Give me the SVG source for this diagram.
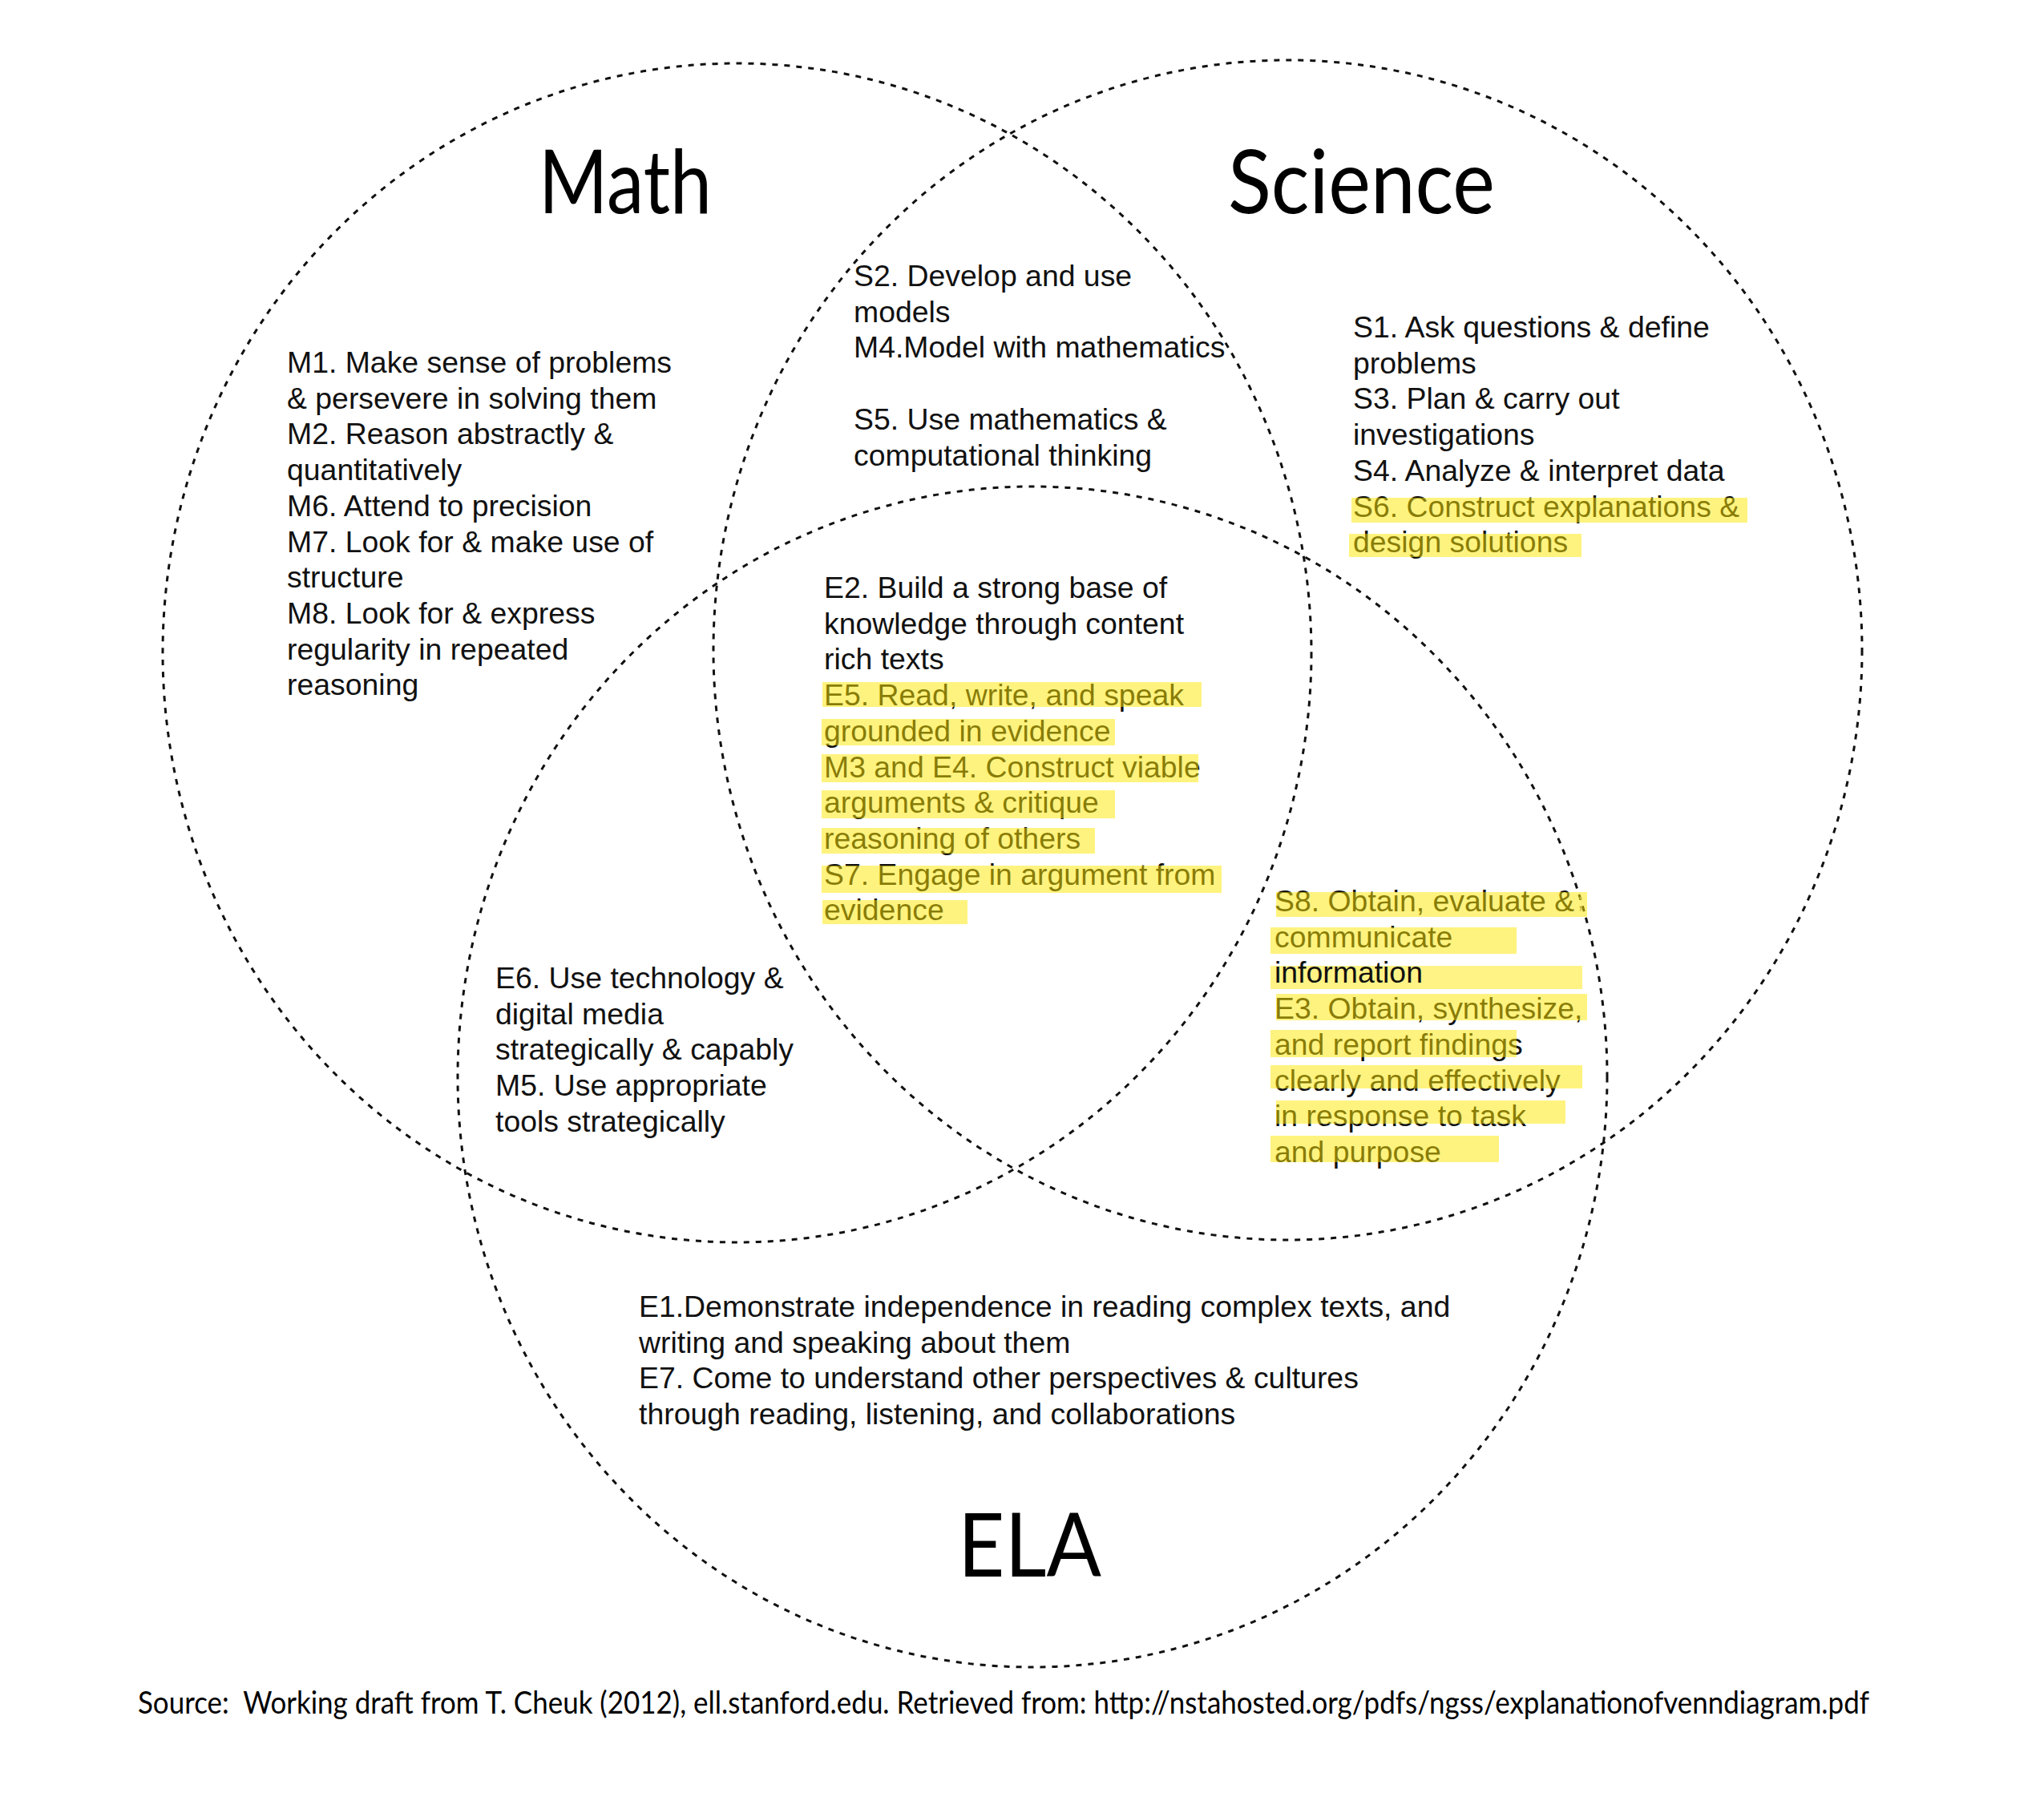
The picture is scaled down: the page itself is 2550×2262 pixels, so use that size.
<svg xmlns="http://www.w3.org/2000/svg" width="2550" height="2262" viewBox="0 0 2550 2262">
<style>
.c{fill:none;stroke:#111;stroke-width:3;stroke-dasharray:7 8}
.t{font-family:"Liberation Sans",Arial,sans-serif;font-size:37.4px;fill:#111}
.h{fill:#FFE800;fill-opacity:0.5}
.hb{fill:#FFF385}
.ti{font-family:Lato,"Open Sans",sans-serif;font-size:110px;fill:#000}
.src{font-family:Lato,"Open Sans",sans-serif;font-size:38px;fill:#000}
</style>
<rect width="2550" height="2262" fill="#fff"/>
<g id="circles">
<ellipse id="math-circle" class="c" cx="919.5" cy="814.5" rx="716.5" ry="735.5"/>
<ellipse id="science-circle" class="c" cx="1606.5" cy="811" rx="716.5" ry="736"/>
<ellipse id="ela-circle" class="c" cx="1288" cy="1343.5" rx="717" ry="736.5"/>
</g>
<g id="connectors"></g>
<g id="title-math"><text class="ti" x="672" y="266" textLength="216" lengthAdjust="spacingAndGlyphs">Math</text></g>
<g id="title-science"><text class="ti" x="1532" y="266" textLength="333" lengthAdjust="spacingAndGlyphs">Science</text></g>
<g id="title-ela"><text class="ti" x="1195" y="1967" textLength="179" lengthAdjust="spacingAndGlyphs">ELA</text></g>
<g id="math-only">
<text class="t" x="358" y="465">M1. Make sense of problems</text>
<text class="t" x="358" y="509.7">&amp; persevere in solving them</text>
<text class="t" x="358" y="554.4">M2. Reason abstractly &amp;</text>
<text class="t" x="358" y="599.1">quantitatively</text>
<text class="t" x="358" y="643.8">M6. Attend to precision</text>
<text class="t" x="358" y="688.5">M7. Look for &amp; make use of</text>
<text class="t" x="358" y="733.2">structure</text>
<text class="t" x="358" y="777.9">M8. Look for &amp; express</text>
<text class="t" x="358" y="822.6">regularity in repeated</text>
<text class="t" x="358" y="867.3">reasoning</text>
</g>
<g id="math-science">
<text class="t" x="1065" y="357">S2. Develop and use</text>
<text class="t" x="1065" y="401.7">models</text>
<text class="t" x="1065" y="446.4">M4.Model with mathematics</text>
<text class="t" x="1065" y="535.8">S5. Use mathematics &amp;</text>
<text class="t" x="1065" y="580.5">computational thinking</text>
</g>
<g id="science-only">
<text class="t" x="1688" y="421">S1. Ask questions &amp; define</text>
<text class="t" x="1688" y="465.7">problems</text>
<text class="t" x="1688" y="510.4">S3. Plan &amp; carry out</text>
<text class="t" x="1688" y="555.1">investigations</text>
<text class="t" x="1688" y="599.8">S4. Analyze &amp; interpret data</text>
<text class="t" x="1688" y="644.5">S6. Construct explanations &amp;</text>
<text class="t" x="1688" y="689.2">design solutions</text>
<rect class="h" x="1686" y="621" width="494" height="31"/>
<rect class="h" x="1683" y="666" width="290" height="29"/>
</g>
<g id="all-three">
<text class="t" x="1028" y="746">E2. Build a strong base of</text>
<text class="t" x="1028" y="790.7">knowledge through content</text>
<text class="t" x="1028" y="835.4">rich texts</text>
<text class="t" x="1028" y="880.1">E5. Read, write, and speak</text>
<text class="t" x="1028" y="924.8">grounded in evidence</text>
<text class="t" x="1028" y="969.5">M3 and E4. Construct viable</text>
<text class="t" x="1028" y="1014.2">arguments &amp; critique</text>
<text class="t" x="1028" y="1058.9">reasoning of others</text>
<text class="t" x="1028" y="1103.6">S7. Engage in argument from</text>
<text class="t" x="1028" y="1148.3">evidence</text>
<rect class="h" x="1026" y="851" width="473" height="31"/>
<rect class="h" x="1025" y="897" width="366" height="33"/>
<rect class="h" x="1025" y="941" width="470" height="35"/>
<rect class="h" x="1025" y="986" width="366" height="35"/>
<rect class="h" x="1025" y="1033" width="341" height="32"/>
<rect class="h" x="1025" y="1080" width="499" height="34"/>
<rect class="h" x="1026" y="1123" width="181" height="30"/>
</g>
<g id="science-ela">
<rect class="hb" x="1585" y="1205" width="389" height="29"/>
<text class="t" x="1590" y="1137">S8. Obtain, evaluate &amp;<tspan fill="#888" font-size="26" dx="4" dy="-4">;</tspan></text>
<text class="t" x="1590" y="1181.7">communicate</text>
<text class="t" x="1590" y="1226.4" fill="#222">information</text>
<text class="t" x="1590" y="1271.1">E3. Obtain, synthesize,</text>
<text class="t" x="1590" y="1315.8">and report findings</text>
<text class="t" x="1590" y="1360.5">clearly and effectively</text>
<text class="t" x="1590" y="1405.2">in response to task</text>
<text class="t" x="1590" y="1449.9">and purpose</text>
<rect class="h" x="1592" y="1113" width="388" height="31"/>
<rect class="h" x="1585" y="1157" width="307" height="33"/>
<rect class="h" x="1592" y="1240" width="388" height="33"/>
<rect class="h" x="1585" y="1285" width="307" height="34"/>
<rect class="h" x="1585" y="1329" width="389" height="29"/>
<rect class="h" x="1592" y="1373" width="361" height="29"/>
<rect class="h" x="1585" y="1417" width="285" height="33"/>
</g>
<g id="math-ela">
<text class="t" x="618" y="1233">E6. Use technology &amp;</text>
<text class="t" x="618" y="1277.7">digital media</text>
<text class="t" x="618" y="1322.4">strategically &amp; capably</text>
<text class="t" x="618" y="1367.1">M5. Use appropriate</text>
<text class="t" x="618" y="1411.8">tools strategically</text>
</g>
<g id="ela-only">
<text class="t" x="797" y="1643">E1.Demonstrate independence in reading complex texts, and</text>
<text class="t" x="797" y="1687.7">writing and speaking about them</text>
<text class="t" x="797" y="1732.4">E7. Come to understand other perspectives &amp; cultures</text>
<text class="t" x="797" y="1777.1">through reading, listening, and collaborations</text>
</g>
<g id="source">
<text class="src" x="172" y="2138" xml:space="preserve" textLength="2160" lengthAdjust="spacingAndGlyphs">Source:  Working draft from T. Cheuk (2012), ell.stanford.edu. Retrieved from: http://nstahosted.org/pdfs/ngss/explanationofvenndiagram.pdf</text>
</g>
</svg>
